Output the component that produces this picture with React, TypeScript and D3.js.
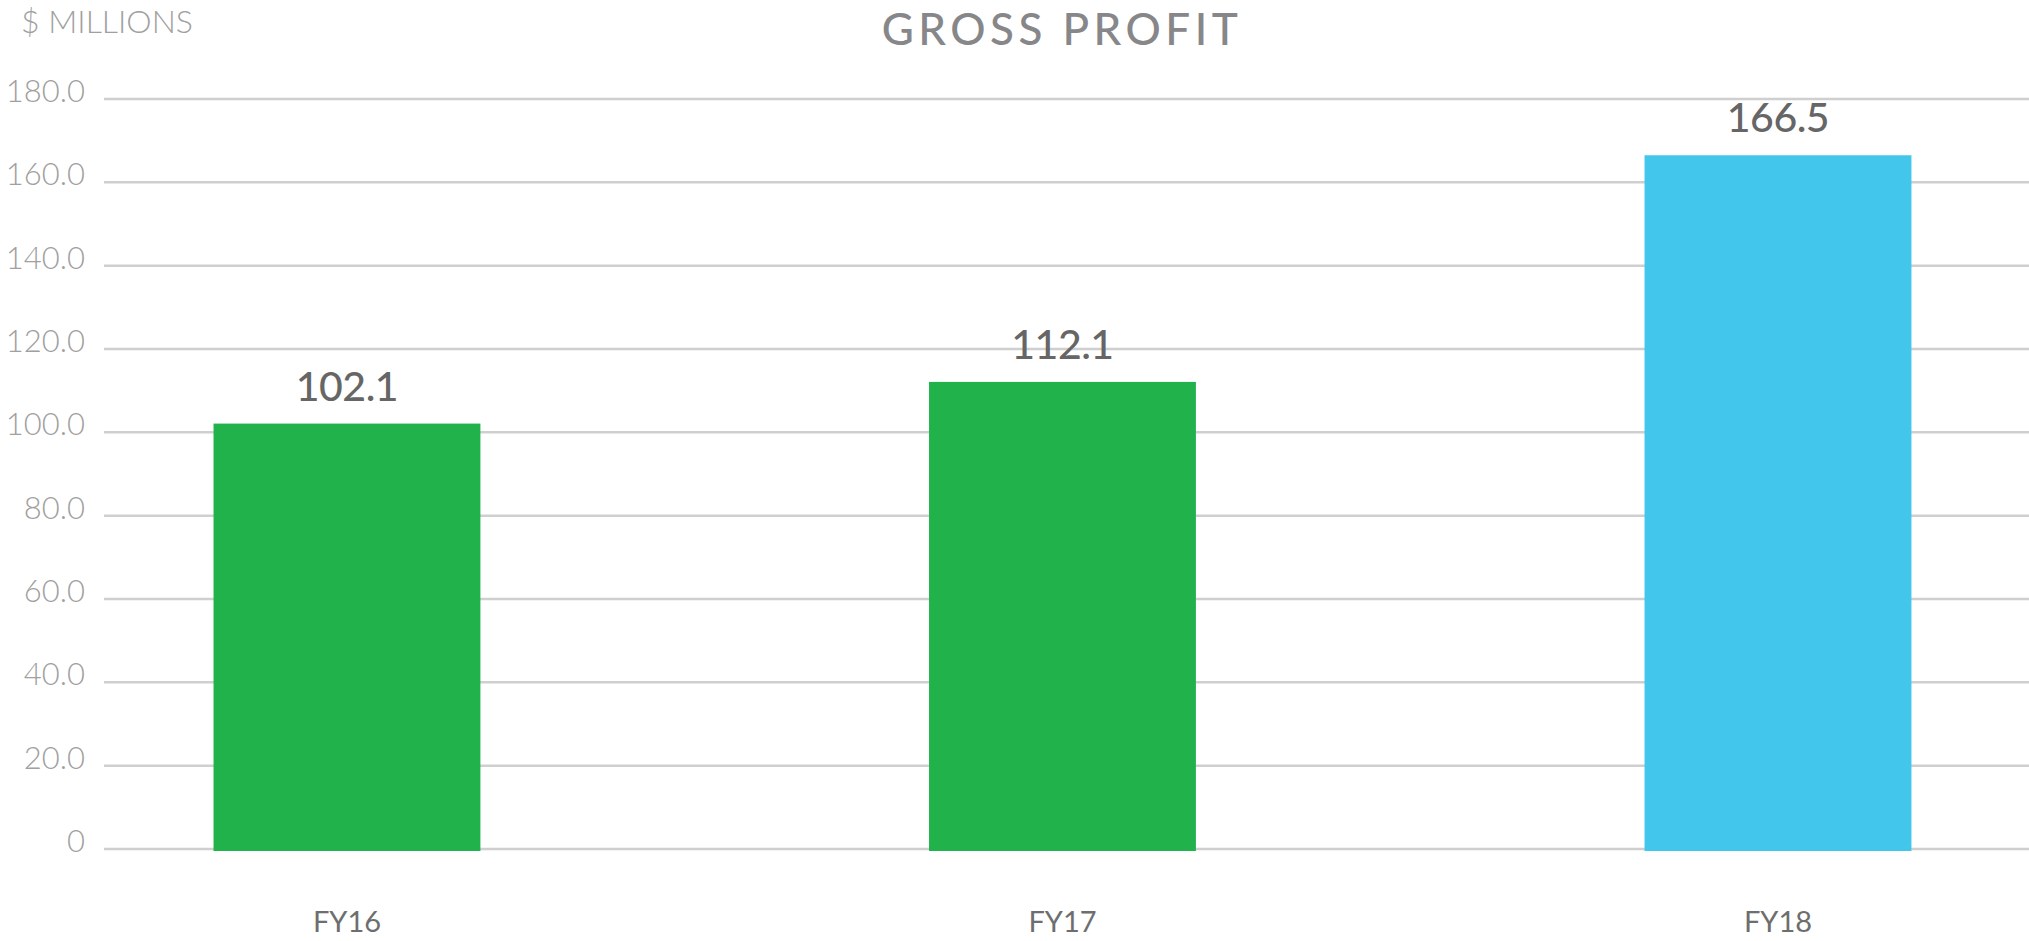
import React from "react";
import * as d3 from "d3";

const categories = ["FY16", "FY17", "FY18"];
const values = [102.1, 112.1, 166.5];
const barColors = ["#22b24c", "#22b24c", "#43c6ec"];
const yTicks = [0, 20, 40, 60, 80, 100, 120, 140, 160, 180];
const title = "GROSS PROFIT";
const unitLabel = "$ MILLIONS";

const W = 2029;
const H = 941;

export default function App() {
  const x = d3
    .scaleBand<string>()
    .domain(categories)
    .range([105, 2029])
    .paddingInner(0.627)
    .paddingOuter(0.158)
    .align(0.48);
  const y = d3.scaleLinear().domain([0, 180]).range([849, 99]);
  const fmt = (v: number) => (v === 0 ? "0" : d3.format(".1f")(v));
  const font = "Lato, 'Open Sans', sans-serif";

  return (
    <svg
      width={W}
      height={H}
      style={{ position: "absolute", left: 0, top: 0, background: "#fff" }}
      fontFamily={font}
    >
      <text
        x={1062}
        y={45}
        textAnchor="middle"
        fontSize={44}
        fontWeight={500}
        fill="#87878a"
        letterSpacing={4.5}
      >
        {title}
      </text>
      <text x={21} y={33} fontSize={32} fontWeight={300} fill="#a0a0a0">
        {unitLabel}
      </text>
      {yTicks.map((t) => (
        <g key={t}>
          <line x1={104} x2={W} y1={y(t)} y2={y(t)} stroke="#cfcfcf" strokeWidth={2.5} />
          <text x={85} y={y(t) + 3} textAnchor="end" fontSize={31} fontWeight={300} fill="#a0a0a0">
            {fmt(t)}
          </text>
        </g>
      ))}
      {categories.map((c, i) => {
        const bx = x(c)!;
        const bw = x.bandwidth();
        const top = y(values[i]);
        return (
          <g key={c}>
            <rect x={bx} y={top} width={bw} height={y(0) - top + 2} fill={barColors[i]} />
            <text
              x={bx + bw / 2}
              y={top - 23}
              textAnchor="middle"
              fontSize={41}
              fontWeight={500}
              fill="#666666"
              letterSpacing={-0.5}
            >
              {values[i].toFixed(1)}
            </text>
            <text x={bx + bw / 2} y={932} textAnchor="middle" fontSize={29} fontWeight={400} fill="#6e6e6e">
              {c}
            </text>
          </g>
        );
      })}
    </svg>
  );
}
